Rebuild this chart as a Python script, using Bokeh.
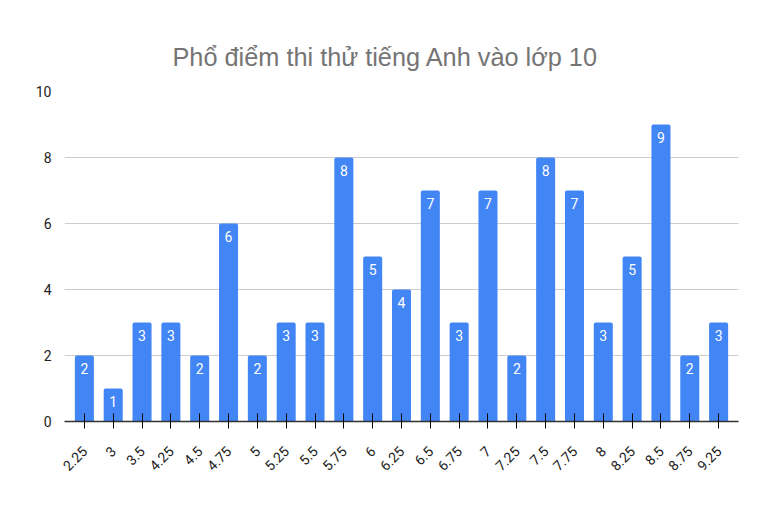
from bokeh.plotting import figure
from bokeh.models import ColumnDataSource, LabelSet, FixedTicker, Range1d
from bokeh.core.properties import value
from bokeh.embed import file_html
from bokeh.resources import INLINE
import math

title_text = "Phổ điểm thi thử tiếng Anh vào lớp 10"
scores = ["2.25", "3", "3.5", "4.25", "4.5", "4.75", "5", "5.25", "5.5", "5.75", "6",
          "6.25", "6.5", "6.75", "7", "7.25", "7.5", "7.75", "8", "8.25", "8.5", "8.75", "9.25"]
counts = [2, 1, 3, 3, 2, 6, 2, 3, 3, 8, 5, 4, 7, 3, 7, 2, 8, 7, 3, 5, 9, 2, 3]
y_ticks = [0, 2, 4, 6, 8, 10]

src = ColumnDataSource(dict(x=scores, y=counts, lbl=[str(c) for c in counts]))

p = figure(x_range=scores, y_range=Range1d(0, 10), width=746, height=491,
           output_backend="svg", toolbar_location=None,
           min_border_left=64, min_border_right=8, min_border_top=91, min_border_bottom=70)

p.title.text = title_text
p.title.align = "left"
p.title.offset = 108
p.title.text_font = "Liberation Sans"
p.title.text_font_size = "25.3px"
p.title.text_font_style = "normal"
p.title.text_color = "#757575"
p.title.standoff = 41

p.vbar(x="x", top="y", width=0.66, source=src, color="#4285F4", line_color=None,
       border_radius=(2, 2, 0, 0))

labels = LabelSet(x="x", y="y", text="lbl", source=src, text_color="white",
                  text_font=value("Roboto"), text_font_size="14px", text_align="center",
                  text_baseline="top", y_offset=-7)
p.add_layout(labels)

p.outline_line_color = None
p.background_fill_color = "white"
p.border_fill_color = "white"

p.xgrid.grid_line_color = None
p.ygrid.grid_line_color = "#cccccc"
p.ygrid.ticker = FixedTicker(ticks=y_ticks)

p.yaxis.ticker = FixedTicker(ticks=y_ticks)
p.yaxis.axis_line_color = None
p.yaxis.major_tick_line_color = None
p.yaxis.minor_tick_line_color = None
p.yaxis.major_label_text_font = "Roboto"
p.yaxis.major_label_text_font_size = "14px"
p.yaxis.major_label_text_color = "#222222"
p.yaxis.major_label_standoff = 7

p.xaxis.axis_line_color = "#333333"
p.xaxis.axis_line_width = 1.5
p.xaxis.major_tick_line_color = "#000000"
p.xaxis.major_tick_in = 8
p.xaxis.major_tick_out = 7
p.xaxis.major_label_orientation = math.pi / 4
p.xaxis.major_label_text_font = "Roboto"
p.xaxis.major_label_text_font_size = "14px"
p.xaxis.major_label_text_color = "#222222"
p.xaxis.major_label_standoff = 20
p.x_range.range_padding = 0.0165

open("out.html", "w").write(file_html(p, INLINE))
